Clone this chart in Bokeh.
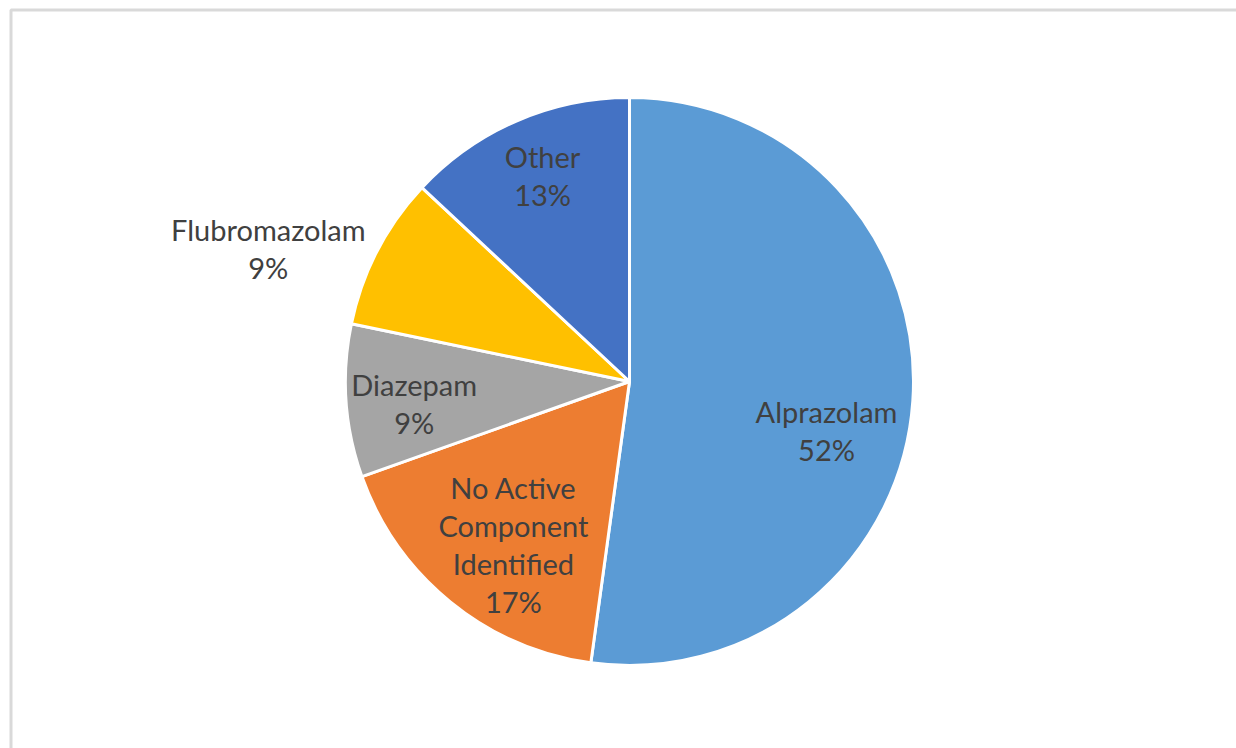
import numpy as np
from bokeh.plotting import figure
from bokeh.models import Range1d, ColumnDataSource
from bokeh.core.properties import value
from bokeh.embed import file_html
from bokeh.resources import INLINE

# ---- data ----
categories = ["Alprazolam", "No Active\nComponent\nIdentified", "Diazepam", "Flubromazolam", "Other"]
counts = [12, 4, 2, 2, 3]
colors = ["#5B9BD5", "#ED7D31", "#A5A5A5", "#FFC000", "#4472C4"]

W, H = 1236, 748
p = figure(width=W, height=H, output_backend="svg", toolbar_location=None,
           x_range=Range1d(0, W), y_range=Range1d(0, H), min_border=0)
p.axis.visible = False
p.grid.visible = False
p.outline_line_color = None
p.background_fill_color = "white"
p.border_fill_color = "white"

# chart frame
p.quad(left=[10.5], right=[W + 50], top=[H - 9.5], bottom=[-50],
       fill_color=None, line_color="#d9d9d9", line_width=3)

cx, cy, r = 629, H - 381, 284
vals = np.array(counts, dtype=float)
frac = vals / vals.sum()
cum = np.concatenate([[0], np.cumsum(frac)])
# clockwise from top
start = np.pi / 2 - cum[:-1] * 2 * np.pi
end = np.pi / 2 - cum[1:] * 2 * np.pi

src = ColumnDataSource(dict(start=start, end=end, color=colors))
p.wedge(x=cx, y=cy, radius=r, start_angle="end", end_angle="start",
        fill_color="color", line_color="white", line_width=3, source=src)

# label placement (radius factor, angle tweak in degrees)
rf = [0.715, 0.705, 0.762, 1.355, 0.787]
dang = [-10.1, 3.7, 1.9, 7.2, -0.6]
mid = (start + end) / 2
lx, ly, txt = [], [], []
for i in range(len(categories)):
    a = mid[i] + np.deg2rad(dang[i])
    lx.append(cx + rf[i] * r * np.cos(a))
    ly.append(cy + rf[i] * r * np.sin(a))
    txt.append(categories[i] + "\n" + f"{round(frac[i] * 100)}%")

p.text(x=lx, y=ly, text=txt, text_align="center", text_baseline="middle",
       text_font=value("Lato"), text_font_size="29px", text_color="#404040",
       text_line_height=1.08)

open("out.html", "w").write(file_html(p, INLINE))
